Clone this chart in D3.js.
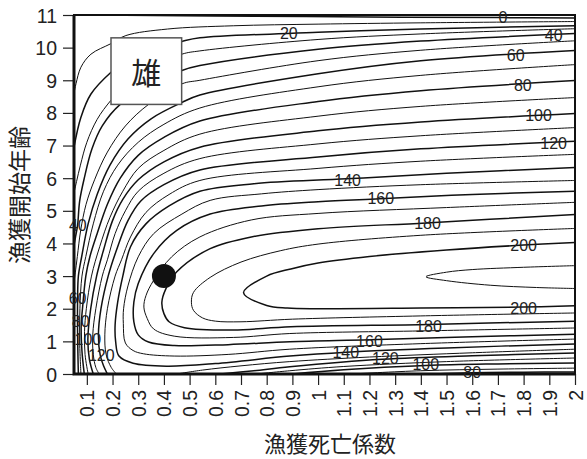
<!DOCTYPE html>
<html><head><meta charset="utf-8">
<script src="https://cdn.jsdelivr.net/npm/d3@7"></script>
<style>
html,body{margin:0;padding:0;background:#fff;}
svg{display:block;}
</style></head>
<body>
<svg id="chart" width="587" height="459"></svg>
<script>
/* Yield-per-recruit isopleth (male): fishing mortality F (x) vs age at first capture tc (y).
   Each contour is a list of [F, tc] points. */

const xTicks = [0.1,0.2,0.3,0.4,0.5,0.6,0.7,0.8,0.9,1,1.1,1.2,1.3,1.4,1.5,1.6,1.7,1.8,1.9,2];
const xTickLabels = ["0.1","0.2","0.3","0.4","0.5","0.6","0.7","0.8","0.9","1","1.1","1.2","1.3","1.4","1.5","1.6","1.7","1.8","1.9","2"];
const yTicks = [0,1,2,3,4,5,6,7,8,9,10,11];

const c0   = [[0.25,10.99],[0.6,10.97],[1.2,10.94],[1.72,10.92],[2,10.91]];
const c10  = [[2,10.8],[1.4,10.76],[1.0,10.72],[0.67,10.67],[0.414,10.57],[0.252,10.37],[0.193,10.12],[0.116,9.8],[0.077,9.4],[0.058,8.9],[0.05,8.6]];
const c20  = [[2,10.67],[1.4,10.57],[1.0,10.47],[0.54,10.3],[0.47,10.19],[0.35,9.92],[0.25,9.58],[0.193,9.24],[0.116,8.58],[0.077,7.87],[0.05,6.95]];
const c30  = [[2,10.58],[1.4,10.42],[1.0,10.25],[0.54,9.9],[0.47,9.8],[0.35,9.38],[0.25,8.85],[0.193,8.38],[0.14,7.8],[0.1,7.1],[0.075,6.4],[0.06,5.9],[0.05,5.55]];
const c40  = [[2,10.43],[1.4,10.2],[1.0,9.95],[0.54,9.45],[0.47,9.3],[0.35,8.85],[0.23,8.26],[0.16,7.6],[0.12,6.9],[0.09,6.0],[0.072,5.3],[0.064,4.56],[0.056,4.2],[0.05,3.95]];
const c50  = [[2,10.21],[1.4,9.92],[1.0,9.6],[0.54,9.0],[0.47,8.89],[0.34,8.26],[0.25,7.6],[0.18,6.8],[0.13,5.95],[0.097,5.2],[0.076,4.4],[0.063,3.6],[0.055,3.1],[0.05,2.8]];
const c60  = [[2,9.91],[1.4,9.6],[1.0,9.2],[0.54,8.55],[0.47,8.32],[0.35,7.82],[0.26,7.2],[0.19,6.4],[0.14,5.5],[0.105,4.6],[0.08,3.6],[0.067,3.0],[0.064,2.3],[0.064,1.2],[0.067,0]];
const c70  = [[2,9.48],[1.4,9.15],[1.0,8.8],[0.54,8.15],[0.4,7.65],[0.3,7.1],[0.22,6.4],[0.165,5.6],[0.125,4.6],[0.096,3.6],[0.081,3.0],[0.073,2.0],[0.072,1.0],[0.077,0]];
const c80  = [[2,8.99],[1.4,8.68],[1.0,8.35],[0.54,7.75],[0.4,7.25],[0.3,6.7],[0.23,6.0],[0.18,5.2],[0.14,4.3],[0.112,3.6],[0.096,3.0],[0.083,2.0],[0.078,1.5],[0.081,0.7],[0.09,0]];
const c90  = [[2,8.47],[1.4,8.2],[1.0,7.9],[0.54,7.35],[0.4,6.85],[0.3,6.3],[0.24,5.6],[0.19,4.8],[0.15,3.9],[0.118,3.0],[0.098,2.0],[0.091,1.3],[0.093,0.6],[0.105,0]];
const c100 = [[2,7.98],[1.4,7.72],[1.0,7.45],[0.54,6.95],[0.4,6.5],[0.3,5.95],[0.24,5.35],[0.2,4.7],[0.165,3.8],[0.138,3.0],[0.115,2.0],[0.104,1.06],[0.11,0.45],[0.125,0]];
const c110 = [[2,7.55],[1.4,7.3],[1.0,7.05],[0.54,6.6],[0.4,6.15],[0.3,5.6],[0.25,5.0],[0.21,4.3],[0.18,3.5],[0.16,3.0],[0.135,2.0],[0.123,1.2],[0.125,0.6],[0.135,0.2],[0.148,0]];
const c120 = [[2,7.13],[1.4,6.9],[1.0,6.65],[0.54,6.25],[0.4,5.8],[0.31,5.3],[0.26,4.7],[0.22,3.9],[0.183,3.0],[0.155,2.0],[0.145,1.2],[0.152,0.58],[0.165,0.25],[0.18,0]];
const c130 = [[2,6.73],[1.4,6.52],[1.0,6.3],[0.54,5.93],[0.42,5.5],[0.33,4.95],[0.27,4.2],[0.235,3.5],[0.21,3.0],[0.18,2.0],[0.17,1.2],[0.175,0.6],[0.195,0.2],[0.215,0]];
const c140 = [[2,6.33],[1.5,6.15],[1.11,5.98],[0.75,5.83],[0.54,5.6],[0.42,5.15],[0.33,4.6],[0.27,3.9],[0.24,3.0],[0.22,2.2],[0.21,1.5],[0.212,1.0],[0.225,0.55],[0.28,0.33],[0.41,0.24],[0.6,0.32],[0.89,0.55],[1.11,0.67],[1.5,0.8],[2,0.92]];
const c150 = [[2,5.93],[1.4,5.8],[1.0,5.65],[0.78,5.52],[0.58,5.32],[0.47,4.9],[0.36,4.3],[0.3,3.59],[0.26,2.7],[0.243,2.0],[0.242,1.55],[0.25,0.95],[0.28,0.72],[0.32,0.62],[0.44,0.55],[0.65,0.6],[0.89,0.76],[1.4,0.93],[2,1.07]];
const c160 = [[2,5.6],[1.6,5.5],[1.24,5.37],[1.0,5.28],[0.78,5.15],[0.58,4.9],[0.45,4.4],[0.36,3.69],[0.3,2.77],[0.283,2.2],[0.283,1.6],[0.3,1.2],[0.34,0.98],[0.44,0.87],[0.65,0.9],[0.89,0.99],[1.2,1.05],[1.6,1.14],[2,1.22]];
const c170 = [[2,5.26],[1.5,5.1],[1.0,4.92],[0.74,4.72],[0.54,4.2],[0.43,3.59],[0.36,2.87],[0.33,2.4],[0.322,2.05],[0.335,1.7],[0.36,1.38],[0.44,1.16],[0.67,1.12],[0.89,1.24],[1.4,1.32],[2,1.41]];
const c180 = [[2,4.89],[1.42,4.63],[1.0,4.45],[0.74,4.2],[0.58,3.84],[0.45,3.13],[0.407,2.6],[0.392,2.2],[0.4,1.85],[0.42,1.6],[0.48,1.42],[0.67,1.35],[0.894,1.45],[1.43,1.52],[2,1.62]];
const c190 = [[2,4.46],[1.4,4.25],[1.0,3.98],[0.855,3.78],[0.7,3.43],[0.58,2.96],[0.515,2.5],[0.507,2.2],[0.515,1.95],[0.55,1.72],[0.6,1.62],[0.7,1.6],[0.9,1.68],[1.4,1.78],[2,1.87]];
const c200 = [[2,4.03],[1.8,3.95],[1.5,3.8],[1.2,3.6],[1.0,3.4],[0.894,3.22],[0.8,3.0],[0.71,2.49],[0.8,2.1],[0.88,2.02],[1.0,2.0],[1.4,2.02],[1.8,2.05],[2,2.09]];
const c210 = [[2,3.32],[1.8,3.27],[1.6,3.2],[1.5,3.12],[1.42,2.98],[1.5,2.86],[1.67,2.72],[1.85,2.65],[2,2.62]];
// pieces of the low contours that come back up from the bottom axis on the right
const c80b  = [[1.45,0],[1.6,0.04],[1.8,0.055],[2,0.06]];
const c90b  = [[1.13,0],[1.4,0.1],[1.7,0.15],[2,0.18]];
const c100b = [[0.9,0],[1.1,0.13],[1.42,0.26],[1.7,0.31],[2,0.34]];
const c110b = [[0.76,0],[0.89,0.1],[1.1,0.23],[1.5,0.38],[2,0.49]];
const c120b = [[0.62,0],[0.75,0.1],[0.89,0.22],[1.25,0.45],[1.6,0.56],[2,0.64]];
const c130b = [[0.45,0],[0.55,0.12],[0.7,0.25],[0.89,0.38],[1.2,0.52],[1.6,0.65],[2,0.76]];

const isopleths = [
  [0,c0],[10,c10],[20,c20],[30,c30],[40,c40],[50,c50],[60,c60],[70,c70],[80,c80],[90,c90],
  [100,c100],[110,c110],[120,c120],[130,c130],[140,c140],[150,c150],[160,c160],[170,c170],
  [180,c180],[190,c190],[200,c200],[210,c210],
  [80,c80b],[90,c90b],[100,c100b],[110,c110b],[120,c120b],[130,c130b]
];

const labelText = ["0","20","40","60","80","100","120","140","160","180","200","200","180","160","140","120","100","80","40","60","80","100","120"];
const labelF    = [1.72,0.886,1.917,1.769,1.797,1.858,1.917,1.115,1.244,1.426,1.8,1.8,1.43,1.2,1.108,1.262,1.419,1.6,0.065,0.064,0.076,0.104,0.156];
const labelTc   = [10.92,10.43,10.37,9.76,8.84,7.92,7.06,5.93,5.38,4.61,3.94,2.02,1.47,1.01,0.67,0.49,0.28,0.06,4.56,2.32,1.6,1.05,0.56];

const current = [0.4, 3];          // present F and tc
const sexLabel = "雄";
const xTitle = "漁獲死亡係数";
const yTitle = "漁獲開始年齢";

const svg = d3.select("#chart");
const plot = {left: 74, right: 575, top: 15, bottom: 374};
const x = d3.scaleLinear().domain([0.05, 2]).range([plot.left, plot.right]);
const y = d3.scaleLinear().domain([0, 11]).range([plot.bottom, plot.top]);
const numFont = "'Liberation Sans', Arial, Helvetica, sans-serif";
const cjkFont = "'Noto Sans CJK JP', 'Noto Sans CJK SC', sans-serif";

svg.append("rect").attr("width", 587).attr("height", 459).attr("fill", "#fff");

svg.append("clipPath").attr("id", "plotclip").append("rect")
  .attr("x", plot.left).attr("y", plot.top)
  .attr("width", plot.right - plot.left).attr("height", plot.bottom - plot.top);

// contour lines
const line = d3.line().x(d => x(d[0])).y(d => y(d[1])).curve(d3.curveCatmullRom.alpha(0.5));
svg.append("g").attr("clip-path", "url(#plotclip)")
  .selectAll("path").data(isopleths).join("path")
  .attr("d", d => line(d[1]))
  .attr("fill", "none")
  .attr("stroke", "#111")
  .attr("stroke-width", d => d[0] % 20 === 0 ? 1.5 : 1.0)
  .attr("stroke-linejoin", "round");

// sex label box
svg.append("rect")
  .attr("x", x(0.194)).attr("y", y(10.3))
  .attr("width", x(0.469) - x(0.194)).attr("height", y(8.26) - y(10.3))
  .attr("fill", "#fff").attr("stroke", "#555").attr("stroke-width", 1.5);
svg.append("text")
  .attr("x", (x(0.194) + x(0.469)) / 2).attr("y", (y(10.3) + y(8.26)) / 2)
  .attr("text-anchor", "middle").attr("dominant-baseline", "central")
  .style("font-family", cjkFont).style("font-size", "30px").attr("fill", "#222")
  .text(sexLabel);

// current status point
svg.append("circle")
  .attr("cx", x(current[0])).attr("cy", y(current[1])).attr("r", 12)
  .attr("fill", "#111");

// axes
const xAxis = svg.append("g").attr("transform", `translate(0,${plot.bottom})`)
  .call(d3.axisBottom(x).tickValues(xTicks).tickSize(11).tickFormat((d, i) => xTickLabels[i]));
xAxis.select(".domain").remove();
xAxis.selectAll(".tick line").attr("stroke", "#222").attr("stroke-width", 1.2);
xAxis.selectAll(".tick text")
  .attr("y", 0).attr("x", 0).attr("dy", null)
  .attr("transform", "translate(0,16) rotate(-90)")
  .attr("text-anchor", "end").attr("dominant-baseline", "central")
  .style("font-family", numFont).style("font-size", "19.5px").attr("fill", "#222");

const yAxis = svg.append("g").attr("transform", `translate(${plot.left},0)`)
  .call(d3.axisLeft(y).tickValues(yTicks).tickSize(11).tickFormat(d3.format("d")));
yAxis.select(".domain").remove();
yAxis.selectAll(".tick line").attr("stroke", "#222").attr("stroke-width", 1.2);
yAxis.selectAll(".tick text")
  .attr("x", -17).attr("dy", null).attr("dominant-baseline", "central")
  .style("font-family", numFont).style("font-size", "19.5px").attr("fill", "#222");

// frame
svg.append("rect")
  .attr("x", plot.left).attr("y", plot.top)
  .attr("width", plot.right - plot.left).attr("height", plot.bottom - plot.top)
  .attr("fill", "none").attr("stroke", "#111").attr("stroke-width", 2);
svg.append("path")
  .attr("d", `M${plot.left},${plot.top}V${plot.bottom}H${plot.right}`)
  .attr("fill", "none").attr("stroke", "#111").attr("stroke-width", 3);

// contour value labels
svg.append("g").selectAll("text").data(labelText).join("text")
  .attr("x", (d, i) => x(labelF[i])).attr("y", (d, i) => y(labelTc[i]))
  .attr("text-anchor", "middle").attr("dominant-baseline", "central")
  .style("font-family", numFont).style("font-size", "16px").attr("fill", "#222")
  .text(d => d);

// titles
svg.append("text")
  .attr("x", 330).attr("y", 442)
  .attr("text-anchor", "middle").attr("dominant-baseline", "central")
  .style("font-family", cjkFont).style("font-size", "22px").attr("fill", "#222")
  .text(xTitle);
svg.append("text")
  .attr("transform", "translate(18,195) rotate(-90)")
  .attr("text-anchor", "middle").attr("dominant-baseline", "central")
  .style("font-family", cjkFont).style("font-size", "23px").attr("fill", "#222")
  .text(yTitle);
</script>
</body></html>
